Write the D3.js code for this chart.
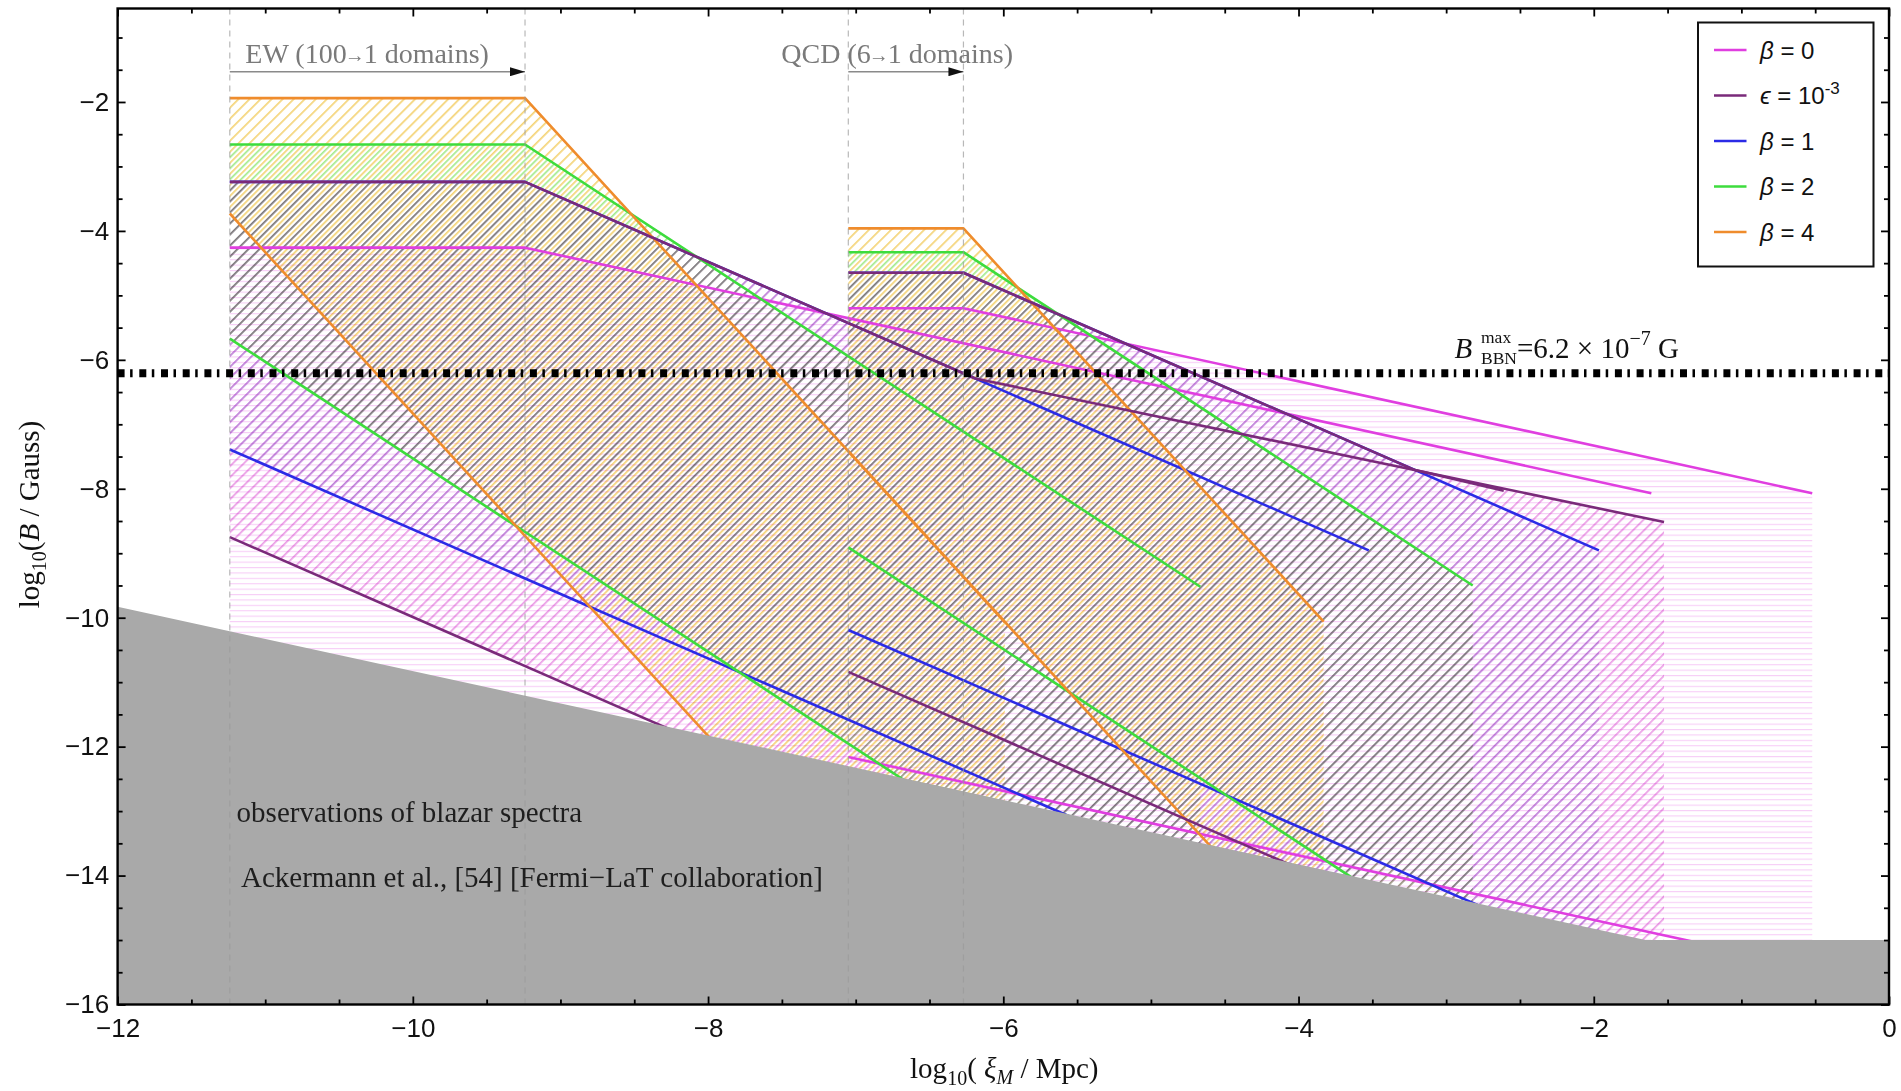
<!DOCTYPE html>
<html>
<head>
<meta charset="utf-8">
<script src="https://cdn.jsdelivr.net/npm/d3@7"></script>
<style>
  html, body { margin: 0; padding: 0; background: #fff; }
  svg { display: block; }
</style>
</head>
<body>
<svg id="chart" width="1901" height="1091"></svg>
<script>
// ---------- axes ----------
const xDomain = [-12, 0];
const yDomain = [-16, -0.55];
const xMajorTicks = [-12, -10, -8, -6, -4, -2, 0];
const yMajorTicks = [-16, -14, -12, -10, -8, -6, -4, -2];

// ---------- phase-transition windows, log10(xi / Mpc) ----------
const ewWindow = [-11.24, -9.24];   // EW: 100 -> 1 domains
const qcdWindow = [-7.05, -6.27];   // QCD: 6 -> 1 domains

// ---------- bounds ----------
const bbnMaxGauss = 6.2e-7;
const blazarBound = [[-12, -9.83], [-1.65, -15.0], [0, -15.0]];

// ---------- EW curves (upper edge / lower edge of each band) ----------
const ewBeta0Upper = [[-11.24, -4.26], [-9.24, -4.26], [-1.61, -8.07]];
const ewBeta0Lower = [[-11.24, -10.9], [-1.61, -15.72]];
const ewEpsUpper   = [[-11.24, -3.24], [-9.24, -3.24], [-6.19, -6.29], [-1.524, -8.516]];
const ewEpsLower   = [[-11.24, -8.75], [-1.524, -18.47]];
const ewBeta1Upper = [[-11.24, -3.24], [-9.24, -3.24], [-3.524, -8.955]];
const ewBeta1Lower = [[-11.24, -7.39], [-3.524, -15.11]];
const ewBeta2Upper = [[-11.24, -2.66], [-9.24, -2.66], [-4.665, -9.52]];
const ewBeta2Lower = [[-11.24, -5.67], [-4.665, -15.53]];
const ewBeta4Upper = [[-11.24, -1.94], [-9.24, -1.94], [-5.99, -10.07]];
const ewBeta4Lower = [[-11.24, -3.73], [-5.99, -16.86]];

// ---------- QCD curves ----------
const qcdBeta0Upper = [[-7.05, -5.20], [-6.27, -5.20], [-0.52, -8.07]];
const qcdBeta0Lower = [[-7.05, -12.16], [-0.52, -15.43]];
const qcdEpsUpper   = [[-7.05, -4.65], [-6.27, -4.65], [-3.21, -7.71], [-2.61, -8.03]];
const qcdEpsLower   = [[-7.05, -10.84], [-2.61, -15.28]];
const qcdBeta1Upper = [[-7.05, -4.65], [-6.27, -4.65], [-1.965, -8.955]];
const qcdBeta1Lower = [[-7.05, -10.19], [-1.965, -15.28]];
const qcdBeta2Upper = [[-7.05, -4.33], [-6.27, -4.33], [-2.82, -9.50]];
const qcdBeta2Lower = [[-7.05, -8.91], [-2.82, -15.26]];
const qcdBeta4Upper = [[-7.05, -3.96], [-6.27, -3.96], [-3.83, -10.06]];
const qcdBeta4Lower = [[-7.05, -7.415], [-3.83, -15.46]];

// ---------- series styling ----------
const legendLabels = ["β = 0", "ϵ = 10", "β = 1", "β = 2", "β = 4"];
const legendSup = ["", "-3", "", "", ""];
const lineColors = ["#e03ee0", "#7a2a7a", "#2b2be6", "#3ddc3d", "#ef8c2c"];
const hatchColors = ["#f7cef7", "#eba0e6", "#cfcff0", "#a6eb90", "#f4d478"];

const models = [
  { key: "b0",  ew: [ewBeta0Upper, ewBeta0Lower], qcd: [qcdBeta0Upper, qcdBeta0Lower], angle: 90, phase: 0 },
  { key: "eps", ew: [ewEpsUpper, ewEpsLower],     qcd: [qcdEpsUpper, qcdEpsLower],     angle: 45, phase: 0 },
  { key: "b1",  ew: [ewBeta1Upper, ewBeta1Lower], qcd: [qcdBeta1Upper, qcdBeta1Lower], angle: 45, phase: 0 },
  { key: "b2",  ew: [ewBeta2Upper, ewBeta2Lower], qcd: [qcdBeta2Upper, qcdBeta2Lower], angle: 45, phase: 0 },
  { key: "b4",  ew: [ewBeta4Upper, ewBeta4Lower], qcd: [qcdBeta4Upper, qcdBeta4Lower], angle: 45, phase: 0.5 }
].map((m, i) => ({ ...m, label: legendLabels[i], sup: legendSup[i], color: lineColors[i], hatch: hatchColors[i] }));

// ---------- layout ----------
const W = 1901, H = 1091;
const margin = { left: 117.6, right: 12, top: 8.5, bottom: 86.5 };
const svg = d3.select("#chart");
const x = d3.scaleLinear().domain(xDomain).range([margin.left, W - margin.right]);
const y = d3.scaleLinear().domain(yDomain).range([H - margin.bottom, margin.top]);
const SERIF = "'Liberation Serif', 'Times New Roman', serif";
const SANS = "'Liberation Sans', Arial, 'DejaVu Sans', sans-serif";

const defs = svg.append("defs");
defs.append("clipPath").attr("id", "plot-clip").append("rect")
  .attr("x", x(xDomain[0])).attr("y", y(yDomain[1]))
  .attr("width", x(xDomain[1]) - x(xDomain[0]))
  .attr("height", y(yDomain[0]) - y(yDomain[1]));

// hatch pattern: stripes at a given angle, spacing and phase
function makeHatch(id, color, angle, spacing, phase, width) {
  const p = defs.append("pattern")
    .attr("id", id)
    .attr("patternUnits", "userSpaceOnUse")
    .attr("width", spacing).attr("height", spacing)
    .attr("patternTransform", `rotate(${angle})`);
  p.append("rect")
    .attr("x", phase * spacing).attr("y", 0)
    .attr("width", width).attr("height", spacing)
    .attr("fill", color);
}
models.forEach(m => {
  if (m.angle === 90) makeHatch("hatch-" + m.key, m.hatch, 90, 5.4, m.phase, 1.1);
  else makeHatch("hatch-" + m.key, m.hatch, 45, 7.8, m.phase, 1.7);
});

const line = d3.line().x(d => x(d[0])).y(d => y(d[1]));
const plot = svg.append("g").attr("clip-path", "url(#plot-clip)");

// one hatched region per model: union of its EW and QCD bands
const bandLayer = plot.append("g").style("isolation", "isolate");
models.forEach(m => {
  const d = [m.ew, m.qcd]
    .map(([upper, lower]) => line(upper.concat(lower.slice().reverse())) + "Z")
    .join("");
  bandLayer.append("path")
    .attr("d", d)
    .attr("fill", `url(#hatch-${m.key})`)
    .attr("fill-rule", "nonzero")
    .style("mix-blend-mode", "multiply");
});

// edge curves; the ϵ curve goes last so it sits over the β = 1 plateau
const drawOrder = ["b0", "b1", "b2", "b4", "eps"];
const lineLayer = plot.append("g");
drawOrder.forEach(k => {
  const m = models.find(d => d.key === k);
  [m.ew[0], m.ew[1], m.qcd[0], m.qcd[1]].forEach(pts => {
    lineLayer.append("path")
      .attr("d", line(pts))
      .attr("fill", "none")
      .attr("stroke", m.color)
      .attr("stroke-width", 2.6)
      .attr("stroke-linejoin", "round");
  });
});

// region excluded by blazar observations
const area = d3.area().x(d => x(d[0])).y0(y(yDomain[0])).y1(d => y(d[1]));
plot.append("path")
  .attr("d", area(blazarBound))
  .attr("fill", "#a9a9a9");

// window markers
plot.selectAll("line.window")
  .data(ewWindow.concat(qcdWindow))
  .enter().append("line")
  .attr("class", "window")
  .attr("x1", d => x(d)).attr("x2", d => x(d))
  .attr("y1", y(yDomain[1])).attr("y2", y(yDomain[0]))
  .attr("stroke", "#9a9a9a").attr("stroke-opacity", 0.7)
  .attr("stroke-width", 1.2).attr("stroke-dasharray", "6,5");

// BBN upper bound
const yBBN = y(Math.log10(bbnMaxGauss));
plot.append("line")
  .attr("x1", x(xDomain[0])).attr("x2", x(xDomain[1]))
  .attr("y1", yBBN).attr("y2", yBBN)
  .attr("stroke", "#000").attr("stroke-width", 8)
  .attr("stroke-dasharray", "7,5.5,2.5,6.7");

// ---------- annotations ----------
const bbnText = svg.append("text")
  .attr("x", 1454.5).attr("y", 358.3)
  .attr("font-family", SERIF).attr("font-size", 29).attr("fill", "#111");
bbnText.append("tspan").attr("font-style", "italic").text("B");
bbnText.append("tspan").attr("x", 1481).attr("y", 343.3).attr("font-size", 17.5).text("max");
bbnText.append("tspan").attr("x", 1481).attr("y", 364).attr("font-size", 17.5).text("BBN");
bbnText.append("tspan").attr("x", 1517).attr("y", 358.3).text("=6.2 × 10");
bbnText.append("tspan").attr("y", 345).attr("font-size", 20).text("−7");
bbnText.append("tspan").attr("y", 358.3).text(" G");

defs.append("marker")
  .attr("id", "arrow-head")
  .attr("markerUnits", "userSpaceOnUse")
  .attr("markerWidth", 16).attr("markerHeight", 9)
  .attr("refX", 15).attr("refY", 4.5)
  .attr("orient", "auto")
  .append("path").attr("d", "M0,0 L15,4.5 L0,9 Z").attr("fill", "#111");

const arrowY = 71.7;
[ewWindow, qcdWindow].forEach(w => {
  svg.append("line")
    .attr("x1", x(w[0])).attr("x2", x(w[1]))
    .attr("y1", arrowY).attr("y2", arrowY)
    .attr("stroke", "#8a8a8a").attr("stroke-width", 1.5)
    .attr("marker-end", "url(#arrow-head)");
});

// "EW (100→1 domains)" and "QCD (6→1 domains)" with a compact arrow glyph
function windowLabel(xPos, before, after) {
  const t = svg.append("text")
    .attr("x", xPos).attr("y", 63)
    .attr("font-family", SERIF).attr("font-size", 28).attr("fill", "#7a7a7a");
  t.append("tspan").text(before);
  t.append("tspan").attr("dx", -2).attr("font-size", 20).attr("dy", -1).text("→");
  t.append("tspan").attr("dx", -1).attr("dy", 1).text(after);
}
windowLabel(x(ewWindow[0]) + 15.5, "EW (100", "1 domains)");
windowLabel(x(qcdWindow[0]) - 67, "QCD (6", "1 domains)");

svg.append("text")
  .attr("x", 236.6).attr("y", 821.7)
  .attr("font-family", SERIF).attr("font-size", 29).attr("fill", "#1e1e1e")
  .text("observations of blazar spectra");
svg.append("text")
  .attr("x", 241).attr("y", 886.7)
  .attr("font-family", SERIF).attr("font-size", 29).attr("fill", "#1e1e1e")
  .text("Ackermann et al., [54] [Fermi−LaT collaboration]");

// ---------- frame and ticks ----------
const minorX = d3.range(-12, 0.001, 0.5).filter(v => !xMajorTicks.includes(v));
const minorY = d3.range(-16, yDomain[1], 0.5).filter(v => !yMajorTicks.includes(v));
const fmt = d3.format("d");

function styleAxis(g) {
  g.select(".domain").remove();
  g.selectAll(".tick line").attr("stroke", "#000").attr("stroke-width", 1.8);
  g.selectAll(".tick text").attr("font-family", SANS).attr("font-size", 26).attr("fill", "#111");
}
const yBottom = y(yDomain[0]), yTop = y(yDomain[1]);
const xLeft = x(xDomain[0]), xRight = x(xDomain[1]);

svg.append("g").attr("transform", `translate(0,${yBottom})`)
  .call(d3.axisBottom(x).tickValues(xMajorTicks).tickFormat(fmt).tickSize(-8).tickPadding(14)).call(styleAxis);
svg.append("g").attr("transform", `translate(0,${yBottom})`)
  .call(d3.axisBottom(x).tickValues(minorX).tickFormat("").tickSize(-5)).call(styleAxis);
svg.append("g").attr("transform", `translate(0,${yTop})`)
  .call(d3.axisTop(x).tickValues(xMajorTicks).tickFormat("").tickSize(-8)).call(styleAxis);
svg.append("g").attr("transform", `translate(0,${yTop})`)
  .call(d3.axisTop(x).tickValues(minorX).tickFormat("").tickSize(-5)).call(styleAxis);
svg.append("g").attr("transform", `translate(${xLeft},0)`)
  .call(d3.axisLeft(y).tickValues(yMajorTicks).tickFormat(fmt).tickSize(-8).tickPadding(8.5)).call(styleAxis);
svg.append("g").attr("transform", `translate(${xLeft},0)`)
  .call(d3.axisLeft(y).tickValues(minorY).tickFormat("").tickSize(-5)).call(styleAxis);
svg.append("g").attr("transform", `translate(${xRight},0)`)
  .call(d3.axisRight(y).tickValues(yMajorTicks).tickFormat("").tickSize(-8)).call(styleAxis);
svg.append("g").attr("transform", `translate(${xRight},0)`)
  .call(d3.axisRight(y).tickValues(minorY).tickFormat("").tickSize(-5)).call(styleAxis);

svg.append("rect")
  .attr("x", xLeft).attr("y", yTop)
  .attr("width", xRight - xLeft).attr("height", yBottom - yTop)
  .attr("fill", "none").attr("stroke", "#000").attr("stroke-width", 2.4);

// axis titles
const xt = svg.append("text")
  .attr("x", (xLeft + xRight) / 2 + 1).attr("y", 1078)
  .attr("text-anchor", "middle")
  .attr("font-family", SERIF).attr("font-size", 29).attr("fill", "#111");
xt.append("tspan").text("log");
xt.append("tspan").attr("dy", 7).attr("font-size", 20).text("10");
xt.append("tspan").attr("dy", -7).text("( ");
xt.append("tspan").attr("font-style", "italic").text("ξ");
xt.append("tspan").attr("dy", 6).attr("font-size", 20).attr("font-style", "italic").text("M");
xt.append("tspan").attr("dy", -6).text(" / Mpc)");

const yt = svg.append("text")
  .attr("transform", `translate(38.5,${(yTop + yBottom) / 2 + 8}) rotate(-90)`)
  .attr("text-anchor", "middle")
  .attr("font-family", SERIF).attr("font-size", 29).attr("fill", "#111");
yt.append("tspan").text("log");
yt.append("tspan").attr("dy", 7).attr("font-size", 20).text("10");
yt.append("tspan").attr("dy", -7).text("(");
yt.append("tspan").attr("font-style", "italic").text("B");
yt.append("tspan").text(" / Gauss)");

// ---------- legend ----------
const legend = svg.append("g");
legend.append("rect")
  .attr("x", 1698).attr("y", 22.5).attr("width", 175.5).attr("height", 244)
  .attr("fill", "#fff").attr("stroke", "#111").attr("stroke-width", 2);
models.forEach((m, i) => {
  const ly = 50 + i * 45.5;
  legend.append("line")
    .attr("x1", 1714).attr("x2", 1746.5).attr("y1", ly).attr("y2", ly)
    .attr("stroke", m.color).attr("stroke-width", 2.6);
  const t = legend.append("text")
    .attr("x", 1760).attr("y", ly + 8.5)
    .attr("font-family", SANS).attr("font-size", 24).attr("fill", "#111");
  const greek = m.label.slice(0, 1), rest = m.label.slice(1);
  t.append("tspan").attr("font-style", "italic").text(greek);
  t.append("tspan").text(rest);
  if (m.sup) t.append("tspan").attr("dy", -10).attr("font-size", 17).text(m.sup);
});
</script>
</body>
</html>
